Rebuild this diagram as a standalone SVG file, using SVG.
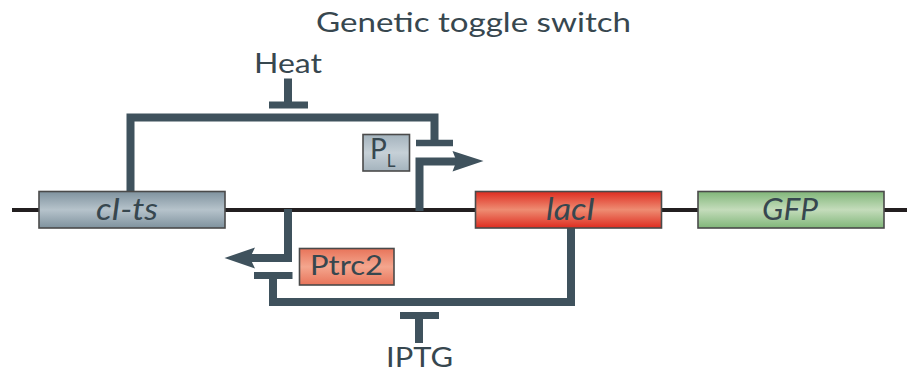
<svg xmlns="http://www.w3.org/2000/svg" width="907" height="372" viewBox="0 0 907 372">
<style>
.t{font-family:"Lato","Open Sans",sans-serif;fill:#37474f}
.i{font-style:italic;font-size:30px}
.c{fill:none;stroke:#3f525d;stroke-width:8}
.h{fill:#3f525d}
.b{stroke:#4a4a4a;stroke-width:1.6}
</style>
<defs>
<linearGradient id="g" x1="0" y1="0" x2="0" y2="1"><stop offset="0" stop-color="#7f929e"/><stop offset=".5" stop-color="#b6c3cb"/><stop offset="1" stop-color="#7f929e"/></linearGradient>
<linearGradient id="r" x1="0" y1="0" x2="0" y2="1"><stop offset="0" stop-color="#de2c20"/><stop offset=".5" stop-color="#ee8c72"/><stop offset="1" stop-color="#de2c20"/></linearGradient>
<linearGradient id="v" x1="0" y1="0" x2="0" y2="1"><stop offset="0" stop-color="#80b679"/><stop offset=".5" stop-color="#c4dcbb"/><stop offset="1" stop-color="#80b679"/></linearGradient>
<linearGradient id="o" x1="0" y1="0" x2="0" y2="1"><stop offset="0" stop-color="#e8745a"/><stop offset=".5" stop-color="#f4a68e"/><stop offset="1" stop-color="#e8745a"/></linearGradient>
<linearGradient id="p" x1="0" y1="0" x2="0" y2="1"><stop offset="0" stop-color="#a4b3bd"/><stop offset=".5" stop-color="#c6d0d7"/><stop offset="1" stop-color="#a4b3bd"/></linearGradient>
</defs>
<rect width="907" height="372" fill="#fff"/>
<text class="t" x="316" y="32" font-size="27" textLength="315" lengthAdjust="spacingAndGlyphs">Genetic toggle switch</text>
<text class="t" x="254" y="73" font-size="27" textLength="68" lengthAdjust="spacingAndGlyphs">Heat</text>
<text class="t" x="386" y="367" font-size="26" textLength="67" lengthAdjust="spacingAndGlyphs">IPTG</text>
<g id="backbone"><path d="M12 210H907" fill="none" stroke="#231f20" stroke-width="4"/></g>
<g id="connectors">
<path class="c" d="M130.500 192V117.500H434.500V141"/>
<path class="c" d="M288 78.500V103"/>
<path class="c" d="M269 105H308" style="stroke-width:7"/>
<path class="c" d="M416 143H453" style="stroke-width:6.500"/>
<path class="c" d="M419.500 211V161.500H457"/>
<path class="h" d="M483.500 161 452.500 151 456.500 161 452.500 171.500Z"/>
<path class="c" d="M288 209V258H250"/>
<path class="h" d="M224.500 258 255 247.500 250 258 255 268.500Z"/>
<path class="c" d="M254 275.500H292.500" style="stroke-width:7"/>
<path class="c" d="M273 276V302H571V228"/>
<path class="c" d="M400 315.500H439" style="stroke-width:7"/>
<path class="c" d="M419 316V343"/>
</g>
<g id="cI-ts"><rect class="b" x="39" y="191.500" width="186" height="36.500" fill="url(#g)"/><text class="t i" x="96" y="220" textLength="62" lengthAdjust="spacingAndGlyphs">cI-ts</text></g>
<g id="lacI"><rect class="b" x="475.500" y="191.500" width="186" height="36.500" fill="url(#r)"/><text class="t i" x="546" y="220" textLength="49" lengthAdjust="spacingAndGlyphs">lacI</text></g>
<g id="GFP"><rect class="b" x="698" y="191.500" width="186" height="36.500" fill="url(#v)"/><text class="t i" x="762" y="220" textLength="56" lengthAdjust="spacingAndGlyphs">GFP</text></g>
<g id="PL"><rect class="b" x="363" y="134.500" width="46.500" height="36.500" fill="url(#p)"/><text class="t" x="370" y="159" font-size="28">P<tspan font-size="17" dy="8">L</tspan></text></g>
<g id="Ptrc2"><rect class="b" x="299.500" y="248.500" width="94.500" height="36.500" fill="url(#o)"/><text class="t" x="310" y="275" font-size="27" textLength="73" lengthAdjust="spacingAndGlyphs">Ptrc2</text></g>
</svg>
